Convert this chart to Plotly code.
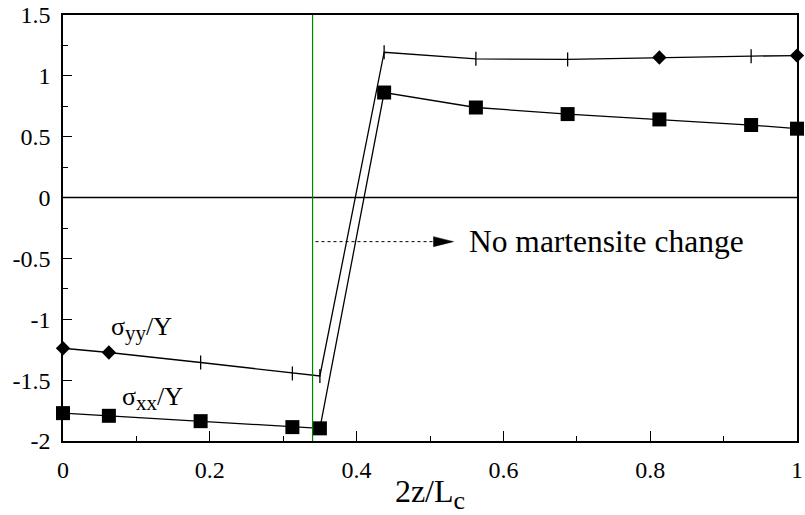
import plotly.graph_objects as go

# Normalised position along the cell, 2z/Lc
z_pos = [0.0, 0.0625, 0.1875, 0.3125, 0.35, 0.4375, 0.5625, 0.6875, 0.8125, 0.9375, 1.0]

# Normalised stresses
sigma_yy = [-1.238, -1.273, -1.355, -1.445, -1.466, 1.194, 1.140, 1.135, 1.151, 1.162, 1.167]
sigma_xx = [-1.771, -1.793, -1.837, -1.886, -1.896, 0.863, 0.740, 0.686, 0.642, 0.596, 0.566]

# Symbols used along the sigma_yy curve
yy_symbols = ["diamond", "diamond", "line-ns", "line-ns", "line-ns", "line-ns",
              "line-ns", "line-ns", "diamond", "line-ns", "diamond"]

# Interface position and annotation
interface_z = 0.34
arrow_tail = 0.344
arrow_tip = 0.532
arrow_y = -0.362
note_text = "No martensite change"

x_ticks = [0, 0.2, 0.4, 0.6, 0.8, 1.0]
x_ticktext = ["0", "0.2", "0.4", "0.6", "0.8", "1"]
y_ticks = [-2, -1.5, -1, -0.5, 0, 0.5, 1, 1.5]
y_ticktext = ["-2", "-1.5", "-1", "-0.5", "0", "0.5", "1", "1.5"]

FONT = "Liberation Serif"

fig = go.Figure()

# curves
fig.add_trace(go.Scatter(
    x=z_pos, y=sigma_yy, mode="lines", cliponaxis=False,
    line=dict(color="black", width=1.3), showlegend=False,
))
fig.add_trace(go.Scatter(
    x=z_pos, y=sigma_xx, mode="lines+markers", cliponaxis=False,
    line=dict(color="black", width=1.3),
    marker=dict(symbol="square", size=14, color="black"),
    showlegend=False,
))

# sigma_yy symbols, split by kind
for kind, size in (("diamond", 11), ("line-ns", 10)):
    idx = [i for i, s in enumerate(yy_symbols) if s == kind]
    fig.add_trace(go.Scatter(
        x=[z_pos[i] for i in idx], y=[sigma_yy[i] for i in idx],
        mode="markers", cliponaxis=False, showlegend=False,
        marker=dict(symbol=kind, size=size, color="black", opacity=1,
                    line=dict(color="black", width=1.3 if kind == "line-ns" else 0)),
    ))

# zero line
fig.add_shape(type="line", xref="paper", x0=0, x1=1, yref="y", y0=0, y1=0,
              line=dict(color="black", width=1.5), layer="below")
# interface
fig.add_shape(type="line", xref="x", x0=interface_z, x1=interface_z,
              yref="paper", y0=0, y1=1,
              line=dict(color="#008400", width=1.2))
# dotted arrow shaft
fig.add_shape(type="line", xref="x", yref="y",
              x0=arrow_tail, x1=arrow_tip - 0.02, y0=arrow_y, y1=arrow_y,
              line=dict(color="black", width=1, dash="dot"))
# arrow head
fig.add_shape(type="path", xref="x", yref="y",
              xsizemode="pixel", ysizemode="pixel",
              xanchor=arrow_tip, yanchor=arrow_y,
              path="M0,0 L-20,5 L-20,-5 Z",
              fillcolor="black", line=dict(color="black", width=0.5))

fig.add_annotation(x=0.5505, y=arrow_y, xref="x", yref="y",
                   text=note_text, showarrow=False,
                   xanchor="left", yanchor="middle",
                   font=dict(family=FONT, size=31.5, color="black"))
fig.add_annotation(x=0.062, y=-1.23, xref="x", yref="y",
                   text="σ<sub><span style='font-size:21px'>yy</span></sub>/Y",
                   showarrow=False, xanchor="left", yanchor="bottom",
                   font=dict(family=FONT, size=26, color="black"))
fig.add_annotation(x=0.077, y=-1.80, xref="x", yref="y",
                   text="σ<sub><span style='font-size:21px'>xx</span></sub>/Y",
                   showarrow=False, xanchor="left", yanchor="bottom",
                   font=dict(family=FONT, size=26, color="black"))

axis_common = dict(
    showline=True, mirror=True, linecolor="black", linewidth=1.5,
    ticks="inside", tickcolor="black", tickwidth=1.2,
    showgrid=False, zeroline=False, ticklabeloverflow="allow",
    tickfont=dict(family=FONT, size=24, color="black"),
)

fig.update_xaxes(
    range=[0, 1], tickvals=x_ticks, ticktext=x_ticktext, ticklen=10,
    minor=dict(ticks="inside", dtick=0.1, ticklen=5, tickcolor="black", tickwidth=1.2),
    title=dict(text="2z/L<sub><span style='font-size:26px'>c</span></sub>",
               font=dict(family=FONT, size=32, color="black"), standoff=8),
    ticklabelstandoff=6,
    **axis_common,
)
fig.update_yaxes(
    range=[-2, 1.5], tickvals=y_ticks, ticktext=y_ticktext, ticklen=9,
    minor=dict(ticks="inside", dtick=0.25, ticklen=5, tickcolor="black", tickwidth=1.2),
    ticklabelstandoff=6,
    **axis_common,
)

fig.update_layout(
    width=805, height=515,
    margin=dict(l=63, r=2, t=15, b=72),
    plot_bgcolor="white", paper_bgcolor="white",
    font=dict(family=FONT, color="black"),
)

fig.write_html("out.html")
